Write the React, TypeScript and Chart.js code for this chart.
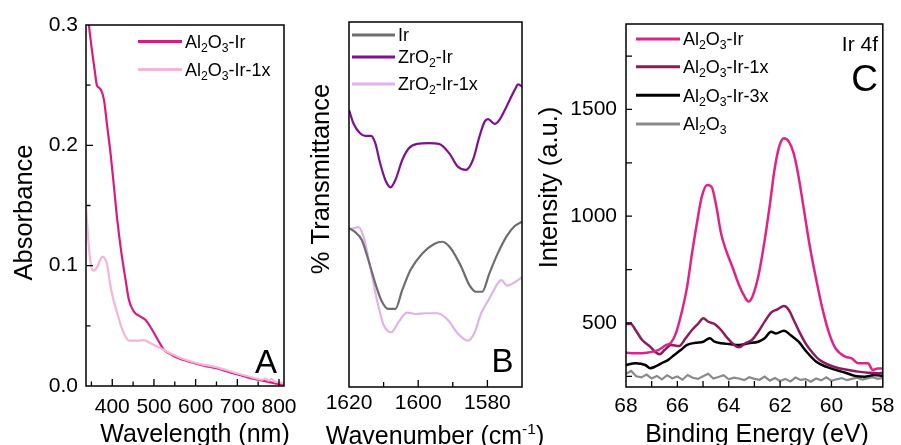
import React, { useEffect, useRef } from 'react';
import { Chart, registerables } from 'chart.js';

Chart.register(...registerables);

const FONT = '"Liberation Sans", Arial, Helvetica, sans-serif';

// ---------------- Panel A : UV-vis ----------------
const uvLambdaIr = [337, 344, 352, 358, 363, 368, 373, 380, 388, 396, 404, 412, 422, 432, 440, 452, 468, 480, 496, 512, 524, 536, 552, 572, 592, 612, 632, 652, 672, 692, 712, 732, 752, 772, 790, 800, 812];
const uvAbsIr = [0.325, 0.3, 0.277, 0.262, 0.25, 0.248, 0.246, 0.238, 0.2155, 0.193, 0.166, 0.138, 0.1105, 0.088, 0.0715, 0.0618, 0.0576, 0.0549, 0.0465, 0.0368, 0.03, 0.0272, 0.024, 0.0216, 0.0195, 0.0175, 0.016, 0.0147, 0.0125, 0.0105, 0.0085, 0.0064, 0.005, 0.0036, 0.0022, 0.0017, 0.0008];
const uvLambdaIr1x = [337, 342, 347, 354, 364, 370, 376, 382, 387, 396, 404, 412, 420, 428, 440, 460, 476, 492, 516, 540, 572, 612, 652, 692, 732, 760, 768, 775, 782, 790, 800, 812];
const uvAbsIr1x = [0.149, 0.124, 0.1047, 0.0958, 0.099, 0.104, 0.1075, 0.106, 0.102, 0.0825, 0.07, 0.0604, 0.051, 0.0438, 0.0377, 0.0377, 0.0382, 0.0355, 0.0313, 0.027, 0.0222, 0.0182, 0.0155, 0.0112, 0.0075, 0.0052, 0.0062, 0.0045, 0.0058, 0.0035, 0.003, 0.002];
const uvXTicks = [350, 400, 450, 500, 550, 600, 650, 700, 750, 800];
const uvXLabels = [400, 500, 600, 700, 800];
const uvYTicks = [0, 0.05, 0.1, 0.15, 0.2, 0.25, 0.3];
const uvYLabels = [0, 0.1, 0.2, 0.3];
const uvSeriesNames = ['Al_2O_3-Ir', 'Al_2O_3-Ir-1x'];

// ---------------- Panel B : IR ----------------
const irWnIr = [1620, 1618.3, 1616.3, 1614.4, 1612.4, 1610.5, 1608.7, 1606.6, 1604.6, 1602.2, 1598.8, 1595.4, 1593, 1590.6, 1587.6, 1585.2, 1583.3, 1581.5, 1579.4, 1577, 1574.5, 1572.1, 1570];
const irTIr = [43.5, 42.5, 40.3, 34.8, 28.4, 23.4, 21.4, 21.4, 26.6, 32.1, 36.6, 39.2, 39.8, 38.0, 33.0, 27.9, 26.1, 26.1, 31.2, 36.6, 41.2, 44.1, 45.3];
const irWnZr = [1620, 1618.7, 1616.8, 1615.3, 1613.6, 1612.4, 1611, 1609.5, 1608, 1606.6, 1604.6, 1602.7, 1600.3, 1596.9, 1594, 1591, 1588.6, 1586.2, 1584.2, 1582.3, 1580.8, 1579.8, 1577.9, 1576.5, 1574.5, 1572.1, 1571.1, 1570];
const irTZr = [75.9, 72.2, 69.5, 68.8, 68.8, 66.8, 61.3, 56.7, 54.7, 56.7, 62.2, 65.4, 66.6, 66.8, 66.6, 64.0, 60.4, 59.5, 62.2, 68.6, 72.7, 73.4, 72.1, 73.2, 76.8, 81.4, 82.9, 82.3];
const irWnZr1x = [1620, 1618.7, 1617.3, 1615.8, 1613.9, 1611.9, 1610, 1607.8, 1605.6, 1603.2, 1600.8, 1597.8, 1594.4, 1591.5, 1588.6, 1585.7, 1583.8, 1581.8, 1579.4, 1577, 1576, 1574.3, 1572.6, 1570];
const irTZr1x = [43.2, 43.5, 43.8, 41.2, 33.0, 23.8, 17.0, 15.0, 17.9, 20.4, 20.0, 20.2, 20.2, 18.4, 14.7, 12.7, 14.7, 20.2, 24.3, 28.4, 29.3, 27.8, 28.4, 30.1];
const irXTicks = [1620, 1610, 1600, 1590, 1580, 1570];
const irXLabels = [1620, 1600, 1580];
const irSeriesNames = ['Ir', 'ZrO_2-Ir', 'ZrO_2-Ir-1x'];

// ---------------- Panel C : XPS Ir 4f ----------------
const xpsEIr = [68.0, 67.63, 67.12, 66.75, 66.43, 66.25, 66.06, 65.81, 65.62, 65.43, 65.24, 65.05, 64.84, 64.67, 64.48, 64.3, 64.11, 63.86, 63.6, 63.38, 63.23, 63.08, 62.85, 62.6, 62.41, 62.22, 62.04, 61.85, 61.66, 61.47, 61.28, 61.09, 60.84, 60.59, 60.34, 60.09, 59.84, 59.46, 59.21, 58.96, 58.58, 58.39, 58.2, 58.0];
const xpsIIr = [360, 358, 362, 373, 397, 407, 451, 561, 670, 826, 967, 1091, 1146, 1138, 1044, 920, 842, 763, 678, 623, 600, 623, 717, 888, 1044, 1216, 1325, 1365, 1349, 1294, 1185, 1044, 857, 701, 561, 451, 381, 342, 334, 311, 311, 280, 287, 287];
const xpsEIr1x = [68.0, 67.81, 67.63, 67.37, 67.06, 66.87, 66.69, 66.5, 66.25, 65.93, 65.68, 65.43, 65.18, 64.99, 64.8, 64.55, 64.3, 64.04, 63.79, 63.6, 63.35, 63.1, 62.85, 62.6, 62.35, 62.1, 61.85, 61.66, 61.47, 61.22, 60.97, 60.72, 60.46, 60.09, 59.71, 59.34, 58.96, 58.58, 58.2, 58.0];
const xpsIIr1x = [495, 495, 467, 420, 389, 365, 353, 373, 397, 392, 428, 467, 498, 522, 506, 495, 467, 428, 397, 386, 405, 420, 459, 506, 548, 564, 579, 561, 514, 451, 397, 358, 326, 303, 288, 280, 272, 267, 264, 267];
const xpsEIr3x = [68.0, 67.63, 67.25, 67.06, 66.87, 66.62, 66.37, 66.12, 65.87, 65.62, 65.3, 64.99, 64.74, 64.55, 64.3, 63.98, 63.6, 63.23, 62.85, 62.6, 62.35, 62.16, 61.85, 61.6, 61.28, 60.97, 60.59, 60.21, 59.84, 59.46, 59.08, 58.71, 58.33, 58.0];
const xpsIIr3x = [303, 311, 303, 288, 295, 311, 326, 350, 373, 397, 407, 412, 428, 412, 405, 401, 397, 405, 412, 428, 459, 451, 464, 444, 412, 365, 318, 295, 280, 267, 252, 248, 256, 252];
const xpsEAl = [68.0, 67.8, 67.6, 67.4, 67.2, 67.0, 66.8, 66.6, 66.4, 66.2, 66.0, 65.8, 65.6, 65.4, 65.2, 65.0, 64.8, 64.6, 64.4, 64.2, 64.0, 63.8, 63.6, 63.4, 63.2, 63.0, 62.8, 62.6, 62.4, 62.2, 62.0, 61.8, 61.6, 61.4, 61.2, 61.0, 60.8, 60.6, 60.4, 60.2, 60.0, 59.8, 59.6, 59.4, 59.2, 59.0, 58.8, 58.6, 58.4, 58.2, 58.0];
const xpsIAl = [262, 275, 250, 245, 258, 240, 252, 236, 255, 241, 249, 234, 256, 243, 238, 250, 262, 240, 247, 255, 236, 244, 240, 232, 246, 238, 234, 249, 230, 242, 228, 238, 226, 244, 233, 237, 225, 240, 231, 245, 229, 236, 242, 232, 238, 244, 235, 240, 246, 238, 243];
const xpsXTicks = [68, 67, 66, 65, 64, 63, 62, 61, 60, 59, 58];
const xpsXLabels = [68, 66, 64, 62, 60, 58];
const xpsYTicks = [250, 500, 750, 1000, 1250, 1500, 1750];
const xpsYLabels = [500, 1000, 1500];
const xpsSeriesNames = ['Al_2O_3-Ir', 'Al_2O_3-Ir-1x', 'Al_2O_3-Ir-3x', 'Al_2O_3'];

// ---------------- helpers ----------------
type Seg = { t: string; k: 0 | 1 | 2 };
function parseRich(s: string): Seg[] {
  const out: Seg[] = [];
  let buf = '';
  let i = 0;
  while (i < s.length) {
    const c = s[i];
    if ((c === '_' || c === '^') && i + 1 < s.length) {
      if (buf) { out.push({ t: buf, k: 0 }); buf = ''; }
      let txt: string;
      if (s[i + 1] === '{') {
        const j = s.indexOf('}', i + 2);
        txt = s.slice(i + 2, j);
        i = j + 1;
      } else {
        txt = s[i + 1];
        i += 2;
      }
      out.push({ t: txt, k: c === '_' ? 1 : 2 });
    } else {
      buf += c;
      i++;
    }
  }
  if (buf) out.push({ t: buf, k: 0 });
  return out;
}
function segSize(k: number, size: number) { return k === 0 ? size : k === 1 ? size * 0.68 : size * 0.62; }
function richWidth(ctx: CanvasRenderingContext2D, s: string, size: number) {
  let w = 0;
  for (const g of parseRich(s)) {
    ctx.font = `${segSize(g.k, size)}px ${FONT}`;
    w += ctx.measureText(g.t).width;
  }
  return w;
}
// y is the visual centre line of capital letters
function drawRich(ctx: CanvasRenderingContext2D, s: string, x: number, y: number, size: number, align: 'left' | 'center' | 'right') {
  const w = richWidth(ctx, s, size);
  let cx = align === 'left' ? x : align === 'center' ? x - w / 2 : x - w;
  const base = y + size * 0.355;
  ctx.textAlign = 'left';
  ctx.textBaseline = 'alphabetic';
  ctx.fillStyle = '#000';
  for (const g of parseRich(s)) {
    const sz = segSize(g.k, size);
    ctx.font = `${sz}px ${FONT}`;
    const by = g.k === 0 ? base : g.k === 1 ? base + size * 0.22 : base - size * 0.4;
    ctx.fillText(g.t, cx, by);
    cx += ctx.measureText(g.t).width;
  }
}
const isIn = (v: number, list: number[]) => list.some((l) => Math.abs(l - v) < 1e-6);
const zip = (xs: number[], ys: number[]) => xs.map((x, i) => ({ x, y: ys[i] }));

type Series = { name: string; xs: number[]; ys: number[]; color: string; width: number; smooth: boolean; order: number };
type AxisSpec = { min: number; max: number; tickVals: number[]; reverse: boolean; labels: number[]; fmt: (v: number) => string; labelPad: number; majorLen: number; minorLen: number; ticks: boolean };
type Panel = {
  padLeft: number;
  plot: { l: number; r: number; t: number; b: number };
  x: AxisSpec;
  y: AxisSpec;
  xTitle: { text: string; x: number; y: number };
  yTitle: { text: string; x: number; y: number };
  series: Series[];
  legend: { x0: number; x1: number; tx: number; ys: number[]; size: number; lw: number };
  marks: { text: string; x: number; y: number; size: number }[];
};

const panels: Panel[] = [
  {
    padLeft: 0,
    plot: { l: 86, r: 284, t: 25, b: 386 },
    x: { min: 337, max: 812, tickVals: uvXTicks, reverse: false, labels: uvXLabels, fmt: (v) => String(v), labelPad: 9, majorLen: 7, minorLen: 4.5, ticks: true },
    y: { min: 0, max: 0.3, tickVals: uvYTicks, reverse: false, labels: uvYLabels, fmt: (v) => v.toFixed(1), labelPad: 8, majorLen: 7, minorLen: 4.5, ticks: true },
    xTitle: { text: 'Wavelength (nm)', x: 195, y: 433 },
    yTitle: { text: 'Absorbance', x: 23, y: 212.5 },
    series: [
      { name: uvSeriesNames[0], xs: uvLambdaIr, ys: uvAbsIr, color: '#D81B7F', width: 2.2, smooth: true, order: 2 },
      { name: uvSeriesNames[1], xs: uvLambdaIr1x, ys: uvAbsIr1x, color: '#F5B5D6', width: 2.2, smooth: true, order: 1 },
    ],
    legend: { x0: 138, x1: 182, tx: 185, ys: [41.5, 69.5], size: 18, lw: 3 },
    marks: [{ text: 'A', x: 277, y: 361.5, size: 33 }],
  },
  {
    padLeft: 300,
    plot: { l: 349, r: 522, t: 22, b: 387 },
    x: { min: 1570, max: 1620, tickVals: irXTicks, reverse: true, labels: irXLabels, fmt: (v) => String(v), labelPad: 4, majorLen: 7, minorLen: 5, ticks: true },
    y: { min: 0, max: 100, tickVals: [], reverse: false, labels: [], fmt: (v) => String(v), labelPad: 8, majorLen: 0, minorLen: 0, ticks: false },
    xTitle: { text: 'Wavenumber (cm^{-1})', x: 435, y: 435 },
    yTitle: { text: '% Transmittance', x: 320, y: 179 },
    series: [
      { name: irSeriesNames[0], xs: irWnIr, ys: irTIr, color: '#6E6E6E', width: 2.2, smooth: true, order: 2 },
      { name: irSeriesNames[1], xs: irWnZr, ys: irTZr, color: '#7D128F', width: 2.2, smooth: true, order: 1 },
      { name: irSeriesNames[2], xs: irWnZr1x, ys: irTZr1x, color: '#E0B2EA', width: 2.2, smooth: true, order: 3 },
    ],
    legend: { x0: 352, x1: 395, tx: 398, ys: [35, 57, 84], size: 18, lw: 3 },
    marks: [{ text: 'B', x: 513.5, y: 360, size: 33 }],
  },
  {
    padLeft: 530,
    plot: { l: 626, r: 890, t: 24, b: 387 },
    x: { min: 58, max: 68, tickVals: xpsXTicks, reverse: true, labels: xpsXLabels, fmt: (v) => String(v), labelPad: 6.5, majorLen: 6, minorLen: 6, ticks: true },
    y: { min: 200, max: 1900, tickVals: xpsYTicks, reverse: false, labels: xpsYLabels, fmt: (v) => String(v), labelPad: 9, majorLen: 6, minorLen: 6, ticks: true },
    xTitle: { text: 'Binding Energy (eV)', x: 757, y: 433 },
    yTitle: { text: 'Intensity (a.u.)', x: 548, y: 187.5 },
    series: [
      { name: xpsSeriesNames[0], xs: xpsEIr, ys: xpsIIr, color: '#DE2389', width: 2.5, smooth: true, order: 1 },
      { name: xpsSeriesNames[1], xs: xpsEIr1x, ys: xpsIIr1x, color: '#8E1B5E', width: 2.5, smooth: true, order: 2 },
      { name: xpsSeriesNames[2], xs: xpsEIr3x, ys: xpsIIr3x, color: '#000000', width: 2.5, smooth: true, order: 3 },
      { name: xpsSeriesNames[3], xs: xpsEAl, ys: xpsIAl, color: '#8A8A8A', width: 2.2, smooth: false, order: 4 },
    ],
    legend: { x0: 636, x1: 680, tx: 683, ys: [39, 66.7, 95.3, 124], size: 18, lw: 3 },
    marks: [
      { text: 'Ir 4f', x: 878, y: 43.7, size: 21 },
      { text: 'C', x: 878, y: 78.3, size: 37 },
    ],
  },
];

function decorPlugin(p: Panel) {
  return {
    id: 'panelDecor',
    afterDraw(chart: any) {
      const ctx: CanvasRenderingContext2D = chart.ctx;
      const a = chart.chartArea;
      const xs = chart.scales.x;
      const ys = chart.scales.y;
      ctx.save();
      // frame
      ctx.strokeStyle = '#000';
      ctx.lineWidth = 1.5;
      ctx.strokeRect(a.left, a.top, a.right - a.left, a.bottom - a.top);
      // inward ticks
      ctx.lineWidth = 1.3;
      ctx.beginPath();
      if (p.x.ticks) {
        for (const t of xs.ticks) {
          const px = xs.getPixelForValue(t.value);
          if (px < a.left + 1 || px > a.right - 1) continue;
          const len = isIn(t.value, p.x.labels) ? p.x.majorLen : p.x.minorLen;
          ctx.moveTo(px, a.bottom);
          ctx.lineTo(px, a.bottom - len);
        }
      }
      if (p.y.ticks) {
        for (const t of ys.ticks) {
          const py = ys.getPixelForValue(t.value);
          if (py < a.top + 1 || py > a.bottom - 1) continue;
          const len = isIn(t.value, p.y.labels) ? p.y.majorLen : p.y.minorLen;
          ctx.moveTo(a.left, py);
          ctx.lineTo(a.left + len, py);
        }
      }
      ctx.stroke();
      // legend
      p.series.forEach((s, i) => {
        const y = p.legend.ys[i];
        ctx.strokeStyle = s.color;
        ctx.lineWidth = p.legend.lw;
        ctx.beginPath();
        ctx.moveTo(p.legend.x0, y);
        ctx.lineTo(p.legend.x1, y);
        ctx.stroke();
        drawRich(ctx, s.name, p.legend.tx, y, p.legend.size, 'left');
      });
      // marks
      for (const m of p.marks) drawRich(ctx, m.text, m.x, m.y, m.size, 'right');
      // axis titles
      drawRich(ctx, p.xTitle.text, p.xTitle.x, p.xTitle.y, 25, 'center');
      ctx.save();
      ctx.translate(p.yTitle.x, p.yTitle.y);
      ctx.rotate(-Math.PI / 2);
      drawRich(ctx, p.yTitle.text, 0, 0, 25.5, 'center');
      ctx.restore();
      ctx.restore();
    },
  };
}

function buildConfig(p: Panel): any {
  const tickFont = { family: FONT, size: 21 };
  return {
    type: 'line',
    data: {
      datasets: p.series.map((s) => ({
        label: s.name,
        data: zip(s.xs, s.ys),
        borderColor: s.color,
        backgroundColor: s.color,
        borderWidth: s.width,
        pointRadius: 0,
        fill: false,
        order: s.order,
        cubicInterpolationMode: s.smooth ? 'monotone' : 'default',
        tension: 0,
      })),
    },
    options: {
      responsive: false,
      maintainAspectRatio: false,
      devicePixelRatio: 1,
      animation: false,
      events: [],
      layout: { padding: { left: p.padLeft, right: 901 - p.plot.r, top: p.plot.t, bottom: 0 } },
      plugins: { legend: { display: false }, tooltip: { enabled: false } },
      scales: {
        x: {
          type: 'linear',
          min: p.x.min,
          max: p.x.max,
          reverse: p.x.reverse,
          grid: { display: false, drawTicks: false },
          border: { display: false },
          ticks: {
            autoSkip: false,
            maxRotation: 0,
            minRotation: 0,
            padding: p.x.labelPad,
            color: '#000',
            font: tickFont,
            callback: (v: number) => (isIn(v, p.x.labels) ? p.x.fmt(v) : ''),
          },
          title: { display: false },
          afterBuildTicks: (s: any) => { s.ticks = p.x.tickVals.map((v) => ({ value: v })); },
          afterFit: (s: any) => { s.height = 445 - p.plot.b; },
        },
        y: {
          type: 'linear',
          min: p.y.min,
          max: p.y.max,
          grid: { display: false, drawTicks: false },
          border: { display: false },
          ticks: {
            display: p.y.ticks,
            autoSkip: false,
            padding: p.y.labelPad,
            color: '#000',
            font: tickFont,
            callback: (v: number) => (isIn(v, p.y.labels) ? p.y.fmt(v) : ''),
          },
          title: { display: false },
          afterBuildTicks: (s: any) => { s.ticks = p.y.tickVals.map((v) => ({ value: v })); },
          afterFit: (s: any) => { s.width = p.plot.l - p.padLeft; },
        },
      },
    },
    plugins: [decorPlugin(p)],
  };
}

export default function App() {
  const r0 = useRef<HTMLCanvasElement>(null);
  const r1 = useRef<HTMLCanvasElement>(null);
  const r2 = useRef<HTMLCanvasElement>(null);
  const refs = [r0, r1, r2];
  useEffect(() => {
    const charts = panels.map((p, i) => new Chart(refs[i].current as HTMLCanvasElement, buildConfig(p)));
    return () => charts.forEach((c) => c.destroy());
  }, []);
  return (
    <div style={{ position: 'fixed', left: 0, top: 0, width: 901, height: 445, background: '#fff', overflow: 'hidden' }}>
      {panels.map((p, i) => (
        <canvas
          key={i}
          ref={refs[i]}
          width={901}
          height={445}
          style={{ position: 'absolute', left: 0, top: 0, width: 901, height: 445, display: 'block' }}
        />
      ))}
    </div>
  );
}
